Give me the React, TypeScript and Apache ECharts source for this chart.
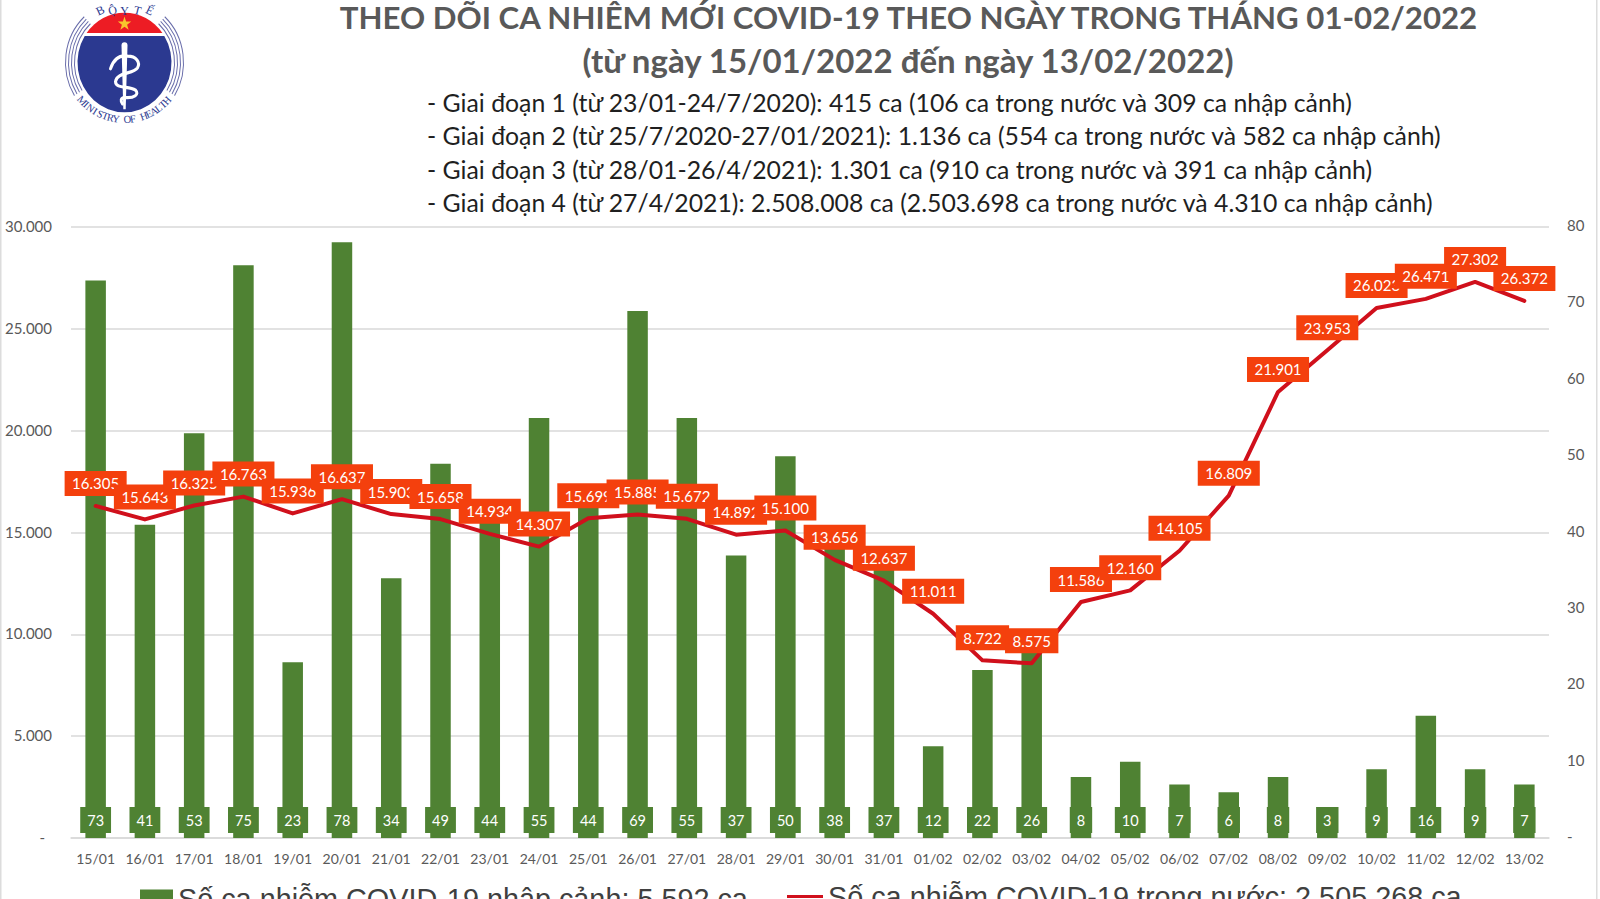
import React, { useEffect, useRef } from "react";
import * as echarts from "echarts";

const FONT = "Lato, 'Noto Sans', sans-serif";

const titleLines = [
  "THEO DÕI CA NHIỄM MỚI COVID-19 THEO NGÀY TRONG THÁNG 01-02/2022",
  "(từ ngày 15/01/2022 đến ngày 13/02/2022)",
];
const phaseLines = [
  "- Giai đoạn 1 (từ 23/01-24/7/2020): 415 ca (106 ca trong nước và 309 ca nhập cảnh)",
  "- Giai đoạn 2 (từ 25/7/2020-27/01/2021): 1.136 ca (554 ca trong nước và 582 ca nhập cảnh)",
  "- Giai đoạn 3 (từ 28/01-26/4/2021): 1.301 ca (910 ca trong nước và 391 ca nhập cảnh)",
  "- Giai đoạn 4 (từ 27/4/2021): 2.508.008 ca (2.503.698 ca trong nước và 4.310 ca nhập cảnh)",
];
const categories = [
  "15/01", "16/01", "17/01", "18/01", "19/01", "20/01", "21/01", "22/01", "23/01", "24/01",
  "25/01", "26/01", "27/01", "28/01", "29/01", "30/01", "31/01", "01/02", "02/02", "03/02",
  "04/02", "05/02", "06/02", "07/02", "08/02", "09/02", "10/02", "11/02", "12/02", "13/02",
];
const importedCases = [
  73, 41, 53, 75, 23, 78, 34, 49, 44, 55, 44, 69, 55, 37, 50, 38, 37, 12, 22, 26, 8, 10, 7, 6, 8, 3, 9, 16, 9, 7,
];
const domesticCases = [
  16305, 15643, 16325, 16763, 15936, 16637, 15903, 15658, 14934, 14307, 15699, 15885, 15672, 14892, 15100,
  13656, 12637, 11011, 8722, 8575, 11586, 12160, 14105, 16809, 21901, 23953, 26023, 26471, 27302, 26372,
];
const importedName = "Số ca nhiễm COVID-19 nhập cảnh: 5.592 ca";
const domesticName = "Số ca nhiễm COVID-19 trong nước: 2.505.268 ca";

const logoTop = [["B", -25], ["Ộ", -13], ["Y", 0], ["T", 14], ["Ế", 26]] as [string, number][];
const logoBottom = "MINISTRY OF HEALTH";

const dotted = (v: number) => String(v).replace(/\B(?=(\d{3})+$)/g, ".");

function buildLogo() {
  const NAVY = "#2b3990";
  const ringArcs: any[] = [];
  [50, 53, 56, 59].forEach((r) => {
    ringArcs.push({ type: "arc", shape: { cx: 0, cy: 0, r, startAngle: (148 * Math.PI) / 180, endAngle: (227 * Math.PI) / 180, clockwise: true }, style: { stroke: "#6a6eab", lineWidth: 1, fill: "none" } });
    ringArcs.push({ type: "arc", shape: { cx: 0, cy: 0, r, startAngle: (-47 * Math.PI) / 180, endAngle: (32 * Math.PI) / 180, clockwise: true }, style: { stroke: "#6a6eab", lineWidth: 1, fill: "none" } });
  });
  const letters: any[] = [];
  logoTop.forEach(([ch, deg]) => {
    const a = (deg * Math.PI) / 180;
    const r = 52 / Math.cos(a);
    letters.push({ type: "text", x: r * Math.sin(a), y: -r * Math.cos(a), rotation: -a, style: { text: ch, fill: NAVY, fontSize: 12, fontFamily: "'Liberation Serif', serif", align: "center", verticalAlign: "middle" } });
  });
  logoBottom.split("").forEach((ch, i) => {
    const deg = 48 - (96 * i) / (logoBottom.length - 1);
    const a = (deg * Math.PI) / 180;
    letters.push({ type: "text", x: -57 * Math.sin(a), y: 57 * Math.cos(a), rotation: -a, style: { text: ch, fill: NAVY, fontSize: 10.5, fontFamily: "'Liberation Serif', serif", align: "center", verticalAlign: "middle" } });
  });
  return {
    type: "group",
    x: 124.5,
    y: 62.5,
    silent: true,
    children: [
      {
        type: "group",
        scaleY: 1.06,
        children: [
          ...ringArcs,
          { type: "logoRed", style: { fill: "#ed1c24" } },
          { type: "logoBlue", style: { fill: NAVY } },
          { type: "logoStaff", style: { fill: "#fff" } },
          { type: "logoSnake", style: { fill: "none", stroke: "#fff", lineWidth: 3, lineCap: "round" } },
          { type: "logoStar", style: { fill: "#f8c62c" } },
        ],
      },
      ...letters,
    ],
  };
}

echarts.graphic.registerShape("logoRed", echarts.graphic.extendPath("M-37.9 -27.8 A47 47 0 0 1 37.9 -27.8 Z", {}));
echarts.graphic.registerShape("logoBlue", echarts.graphic.extendPath("M-39.8 -25 A47 47 0 1 0 39.8 -25 Z", {}));
echarts.graphic.registerShape("logoStaff", echarts.graphic.extendPath("M-3 -16 A3 3 0 0 1 3 -16 L1.2 44 L-1.2 44 Z", {}));
echarts.graphic.registerShape("logoSnake", echarts.graphic.extendPath("M-14 6 C-11 -3 -5 -7 3 -6 C12 -6 16 0 13 5 C9 11 -8 9 -9 18 C-9 25 4 22 11 26 C15 30 10 34 0 33 C-4 33 -4 37 -2 39", {}));
echarts.graphic.registerShape("logoStar", echarts.graphic.extendPath("M0 -43.5 L1.6 -38.7 L6.7 -38.7 L2.6 -35.7 L4.1 -30.8 L0 -33.8 L-4.1 -30.8 L-2.6 -35.7 L-6.7 -38.7 L-1.6 -38.7 Z", {}));

export default function App() {
  const ref = useRef<HTMLDivElement>(null);
  useEffect(() => {
    const chart = echarts.init(ref.current!, null, { renderer: "svg" });
    chart.setOption({
      animation: false,
      backgroundColor: "#fff",
      textStyle: { fontFamily: FONT },
      title: [
        { text: titleLines[0], left: 908.5, top: 0, padding: 0, textAlign: "center", textStyle: { fontFamily: FONT, fontWeight: 700, fontSize: 31.2, color: "#595959", lineHeight: 34 } },
        { text: titleLines[1], left: 908, top: 43, padding: 0, textAlign: "center", textStyle: { fontFamily: FONT, fontWeight: 700, fontSize: 33, color: "#595959", lineHeight: 34 } },
        ...phaseLines.map((t, i) => ({
          text: t,
          left: 427,
          top: 88.5 + i * 33.4,
          padding: 0,
          textStyle: { fontFamily: FONT, fontWeight: 400, fontSize: 24.8, color: "#1f1f1f", lineHeight: 28 },
        })),
      ],
      grid: { left: 71, right: 51, top: 227, height: 611, containLabel: false },
      legend: [
        {
          data: [{ name: importedName, icon: "rect" }],
          left: 140,
          top: 884,
          itemWidth: 33,
          itemHeight: 18,
          padding: 0,
          selectedMode: false,
          textStyle: { fontFamily: "'Liberation Sans', sans-serif", fontSize: 28.8, color: "#404040" },
        },
        {
          data: [{ name: domesticName, icon: "rect" }],
          left: 787,
          top: 882,
          itemWidth: 36,
          itemHeight: 3,
          padding: 0,
          selectedMode: false,
          textStyle: { fontFamily: "'Liberation Sans', sans-serif", fontSize: 28.8, color: "#404040" },
        },
      ],
      xAxis: {
        type: "category",
        data: categories,
        axisTick: { show: false },
        axisLine: { lineStyle: { color: "#d9d9d9", width: 1.5 } },
        axisLabel: { color: "#595959", fontSize: 14, fontFamily: FONT, margin: 13, interval: 0 },
      },
      yAxis: [
        {
          type: "value",
          min: 0,
          max: 30000,
          interval: 5000,
          position: "left",
          axisLine: { show: false },
          axisTick: { show: false },
          splitLine: { lineStyle: { color: "#d9d9d9", width: 1.5 } },
          axisLabel: {
            color: "#595959",
            fontSize: 15,
            fontFamily: FONT,
            margin: 19,
            padding: [0, 0, 2, 0],
            formatter: (v: number) => (v === 0 ? "{d|-}" : dotted(v)),
            rich: { d: { padding: [0, 7, 0, 0], color: "#595959", fontSize: 15 } },
          },
        },
        {
          type: "value",
          min: 0,
          max: 80,
          interval: 10,
          position: "right",
          axisLine: { show: false },
          axisTick: { show: false },
          splitLine: { show: false },
          axisLabel: {
            color: "#595959",
            fontSize: 15,
            fontFamily: FONT,
            margin: 18,
            verticalAlign: "bottom",
            lineHeight: 4,
            formatter: (v: number) => (v === 0 ? "-" : String(v)),
          },
        },
      ],
      series: [
        {
          name: importedName,
          type: "bar",
          yAxisIndex: 1,
          data: importedCases,
          barWidth: 20.5,
          itemStyle: { color: "#4f8233" },
          label: {
            show: true,
            position: "insideBottom",
            distance: 5,
            color: "#fff",
            fontSize: 14.5,
            fontFamily: FONT,
            lineHeight: 14,
            backgroundColor: "#4f8233",
            padding: [6, 7],
          },
        },
        {
          name: domesticName,
          type: "line",
          yAxisIndex: 0,
          data: domesticCases,
          symbol: "circle",
          symbolSize: 1,
          showSymbol: true,
          smooth: false,
          itemStyle: { color: "#d0101c" },
          lineStyle: { color: "#d0101c", width: 4, cap: "round", join: "round" },
          label: {
            show: true,
            position: "top",
            distance: 9.5,
            color: "#fff",
            fontSize: 15,
            fontFamily: FONT,
            lineHeight: 15,
            backgroundColor: "#f4400d",
            padding: [5, 7.5],
            formatter: (p: any) => dotted(p.value),
          },
        },
      ],
      graphic: [
        { type: "rect", silent: true, shape: { x: 0, y: 0, width: 1.5, height: 899 }, style: { fill: "#dcdcdc" } },
        { type: "rect", silent: true, shape: { x: 1596, y: 0, width: 1.5, height: 899 }, style: { fill: "#dcdcdc" } },
        buildLogo(),
      ],
    });
    return () => chart.dispose();
  }, []);
  return <div ref={ref} style={{ position: "absolute", left: 0, top: 0, width: 1600, height: 899, overflow: "hidden" }} />;
}
